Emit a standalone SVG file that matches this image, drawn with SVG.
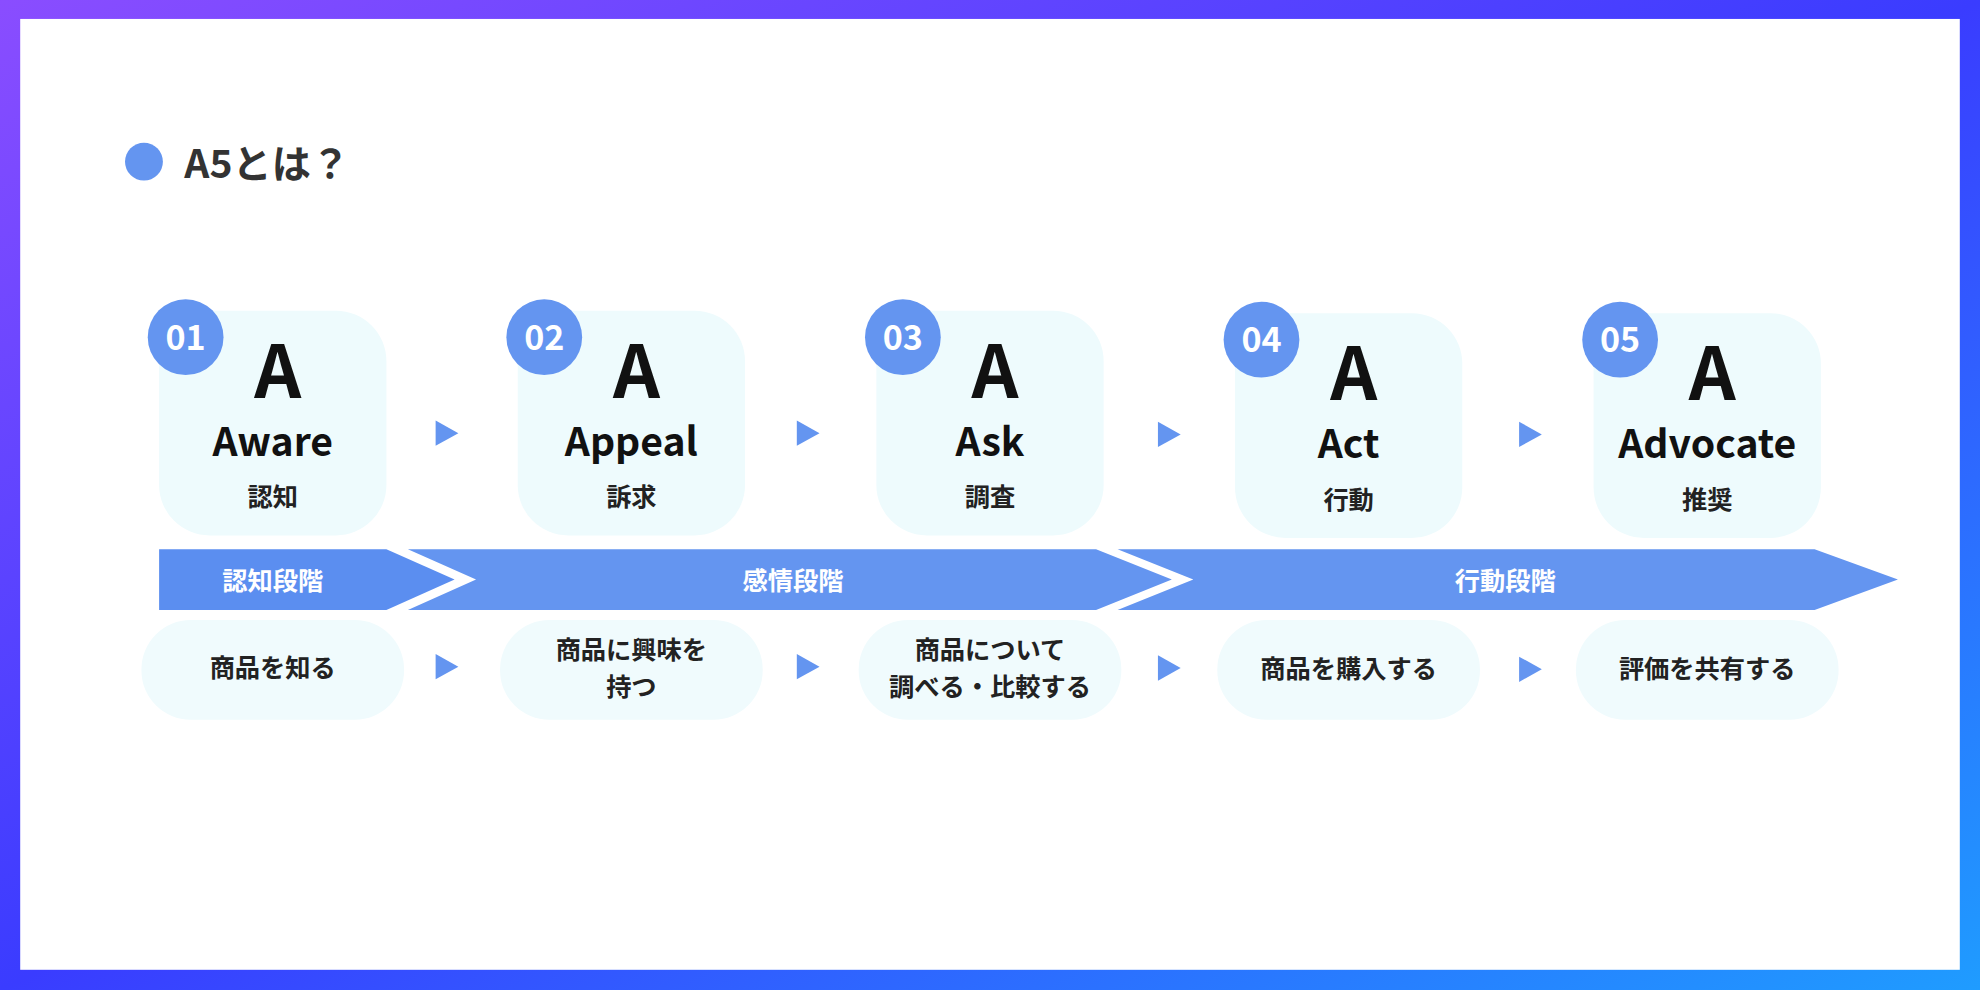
<svg xmlns="http://www.w3.org/2000/svg" width="1980" height="990" viewBox="0 0 1980 990">
<defs>
<linearGradient id="bg" x1="0" y1="0" x2="1" y2="1">
<stop offset="0" stop-color="#8a4dff"/><stop offset="0.5" stop-color="#3a3cff"/><stop offset="1" stop-color="#1f9cff"/>
</linearGradient>
<polygon id="tri" points="0,-10 18,0 0,10" fill="#6495f0"/>
</defs>
<style>
text{font-family:"Noto Sans CJK JP","Noto Sans",sans-serif;font-weight:700;text-anchor:middle}
.card{fill:#eefbfd}
.pill{fill:#f0fbfd}
.num{fill:#6495f0}
.nt{fill:#fff;font-size:27px}
.big{font-size:58px;fill:#111}
.en{font-size:31px;fill:#111}
.jp{font-size:20px;fill:#222}
.bt{font-size:20px;fill:#fff}
.pt{font-size:20px;fill:#222}
</style>
<rect width="1980" height="990" fill="url(#bg)"/>
<g transform="scale(1.26276)">
<rect x="16" y="15" width="1536" height="753" fill="#fff"/>
<circle cx="114" cy="128" r="15" fill="#6495f0"/>
<text x="146" y="141" style="text-anchor:start;font-size:31px;fill:#333">A5とは？</text>

<g id="card1"><rect class="card" x="126" y="246" width="180" height="178" rx="40"/><circle class="num" cx="147" cy="267" r="30"/><text class="nt" x="147" y="277">01</text><text class="big" x="220" y="315">A</text><text class="en" x="216" y="361">Aware</text><text class="jp" x="216" y="401">認知</text></g>
<g id="card2"><rect class="card" x="410" y="246" width="180" height="178" rx="40"/><circle class="num" cx="431" cy="267" r="30"/><text class="nt" x="431" y="277">02</text><text class="big" x="504" y="315">A</text><text class="en" x="500" y="361">Appeal</text><text class="jp" x="500" y="401">訴求</text></g>
<g id="card3"><rect class="card" x="694" y="246" width="180" height="178" rx="40"/><circle class="num" cx="715" cy="267" r="30"/><text class="nt" x="715" y="277">03</text><text class="big" x="788" y="315">A</text><text class="en" x="784" y="361">Ask</text><text class="jp" x="784" y="401">調査</text></g>
<g id="card4"><rect class="card" x="978" y="248" width="180" height="178" rx="40"/><circle class="num" cx="999" cy="269" r="30"/><text class="nt" x="999" y="279">04</text><text class="big" x="1072" y="317">A</text><text class="en" x="1068" y="363">Act</text><text class="jp" x="1068" y="403">行動</text></g>
<g id="card5"><rect class="card" x="1262" y="248" width="180" height="178" rx="40"/><circle class="num" cx="1283" cy="269" r="30"/><text class="nt" x="1283" y="279">05</text><text class="big" x="1356" y="317">A</text><text class="en" x="1352" y="363">Advocate</text><text class="jp" x="1352" y="403">推奨</text></g>

<g id="band">
<polygon points="126,435 306,435 360,459 306,483 126,483" fill="#5b8ef0"/>
<polygon points="323,435 868,435 928,459 868,483 323,483 377,459" fill="#6495f0"/>
<polygon points="885,435 1437,435 1503,459 1437,483 885,483 945,459" fill="#6495f0"/>
<text class="bt" x="216" y="467">認知段階</text>
<text class="bt" x="628" y="467">感情段階</text>
<text class="bt" x="1192" y="467">行動段階</text>
</g>

<g id="pill1"><rect class="pill" x="112" y="491" width="208" height="79" rx="39"/><text class="pt" x="216" y="536">商品を知る</text></g>
<g id="pill2"><rect class="pill" x="396" y="491" width="208" height="79" rx="39"/><text class="pt" x="500" y="522">商品に興味を</text><text class="pt" x="500" y="551">持つ</text></g>
<g id="pill3"><rect class="pill" x="680" y="491" width="208" height="79" rx="39"/><text class="pt" x="784" y="522">商品について</text><text class="pt" x="784" y="551">調べる・比較する</text></g>
<g id="pill4"><rect class="pill" x="964" y="491" width="208" height="79" rx="39"/><text class="pt" x="1068" y="537">商品を購入する</text></g>
<g id="pill5"><rect class="pill" x="1248" y="491" width="208" height="79" rx="39"/><text class="pt" x="1352" y="537">評価を共有する</text></g>

<g id="connectors">
<use href="#tri" x="345" y="343"/><use href="#tri" x="631" y="343"/><use href="#tri" x="917" y="344"/><use href="#tri" x="1203" y="344"/>
<use href="#tri" x="345" y="528"/><use href="#tri" x="631" y="528"/><use href="#tri" x="917" y="529"/><use href="#tri" x="1203" y="530"/>
</g>
</g>
</svg>
